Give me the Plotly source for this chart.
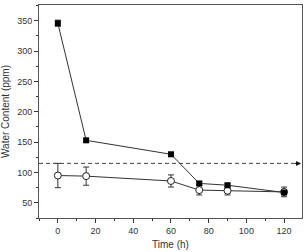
import plotly.graph_objects as go

time_filled = [0, 15, 60, 75, 90, 120]
water_filled = [346, 153, 130, 82, 79, 67]
err_filled = [5, 3, 3, 3, 3, 3]

time_open = [0, 15, 60, 75, 90, 120]
water_open = [95, 94, 86, 71, 70, 68]
err_open = [20, 15, 10, 8, 7, 8]

threshold = 115

x_ticks = [0, 20, 40, 60, 80, 100, 120]
y_ticks = [50, 100, 150, 200, 250, 300, 350]

fig = go.Figure()
fig.add_trace(go.Scatter(
    x=time_open, y=water_open, mode="lines+markers",
    line=dict(color="#333333", width=1),
    marker=dict(symbol="circle", size=7, color="white", line=dict(width=1, color="#222222")),
    error_y=dict(type="data", array=err_open, color="#333333", thickness=1, width=3),
    showlegend=False))
fig.add_trace(go.Scatter(
    x=time_filled, y=water_filled, mode="lines+markers",
    line=dict(color="#333333", width=1),
    marker=dict(symbol="square", size=6, color="black"),
    error_y=dict(type="data", array=err_filled, color="#333333", thickness=1, width=3),
    showlegend=False))

fig.add_shape(type="line", xref="x", yref="y", x0=-10, x1=126, y0=threshold, y1=threshold,
              line=dict(color="#444444", width=1, dash="4px,3px"))
fig.add_annotation(x=129, y=threshold, ax=125, ay=threshold, xref="x", yref="y",
                   axref="x", ayref="y", showarrow=True, arrowhead=2, arrowsize=1,
                   arrowwidth=1, arrowcolor="#111111", text="")

fig.update_layout(
    width=306, height=252, margin=dict(l=39, r=4, t=5, b=34),
    paper_bgcolor="white", plot_bgcolor="white",
    font=dict(family="Liberation Sans", size=9, color="#333333"),
)
fig.update_xaxes(range=[-10, 129.5], tickvals=x_ticks, ticks="outside", ticklen=4,
                 tickcolor="#333333", showgrid=False, zeroline=False,
                 showline=True, linecolor="#555555", linewidth=1, mirror=True,
                 minor=dict(dtick=10, tick0=0, ticks="outside", ticklen=2, tickcolor="#333333"),
                 title=dict(text="Time (h)", font=dict(size=10), standoff=6))
fig.update_yaxes(range=[25, 376], tickvals=y_ticks, ticks="outside", ticklen=4,
                 tickcolor="#333333", showgrid=False, zeroline=False,
                 showline=True, linecolor="#555555", linewidth=1, mirror=True,
                 minor=dict(dtick=25, tick0=0, ticks="outside", ticklen=2, tickcolor="#333333"),
                 title=dict(text="Water Content (ppm)", font=dict(size=10), standoff=6))

fig.write_html("out.html")
